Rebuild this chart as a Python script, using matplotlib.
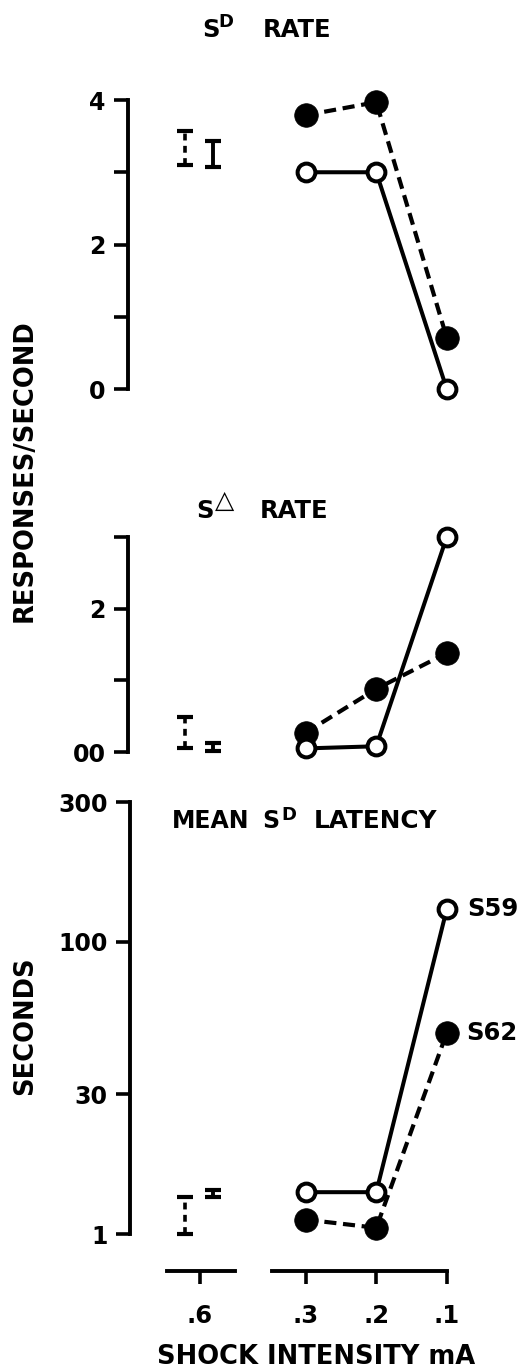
import matplotlib
matplotlib.use('Agg')
import matplotlib.pyplot as plt
from matplotlib.ticker import NullLocator

plt.rcParams['font.family'] = ['DejaVu Sans']
plt.rcParams['font.weight'] = 'bold'
plt.rcParams['mathtext.fontset'] = 'dejavusans'

W, H, DPI = 532, 1371, 100

# ---------------- data ----------------
x_labels = ['.6', '.3', '.2', '.1']
x_pos = [0.0, 1.5, 2.5, 3.5]          # axis positions of the intensities
# values at .3, .2, .1 mA
s59_sd_rate = [3.0, 3.0, 0.0]
s62_sd_rate = [3.79, 3.97, 0.71]
s59_sdelta_rate = [0.05, 0.08, 3.0]
s62_sdelta_rate = [0.27, 0.88, 1.38]
s59_latency = [13.9, 13.9, 129.0]
s62_latency = [11.2, 10.5, 48.7]
# ranges at .6 mA (low, high)
s62_sd_range = [3.10, 3.57]
s59_sd_range = [3.07, 3.43]
s62_sdelta_range = [0.06, 0.49]
s59_sdelta_range = [0.02, 0.12]
s62_latency_range = [10.0, 13.4]
s59_latency_range = [13.4, 14.1]

sd_ticks = [0, 1, 2, 3, 4]
sd_ticklabels = ['0', '', '2', '', '4']
sdelta_ticks = [0, 1, 2, 3]
sdelta_ticklabels = ['00', '', '2', '']
lat_ticks = [10, 30, 100, 300]
lat_ticklabels = ['1', '30', '100', '300']

# ---------------- layout helpers ----------------
fig = plt.figure(figsize=(W / DPI, H / DPI), dpi=DPI)
UNIT = 70.5   # px per x unit
X0 = 200.0    # px of x position 0
SPINE_LW = 2.8
TICK_W = 2.6


def add_ax(left, top, right, bottom):
    ax = fig.add_axes([left / W, 1 - bottom / H, (right - left) / W, (bottom - top) / H])
    ax.set_xlim((left - X0) / UNIT, (right - X0) / UNIT)
    ax.patch.set_alpha(0)
    for s in ['top', 'right', 'bottom']:
        ax.spines[s].set_visible(False)
    ax.spines['left'].set_linewidth(SPINE_LW)
    ax.spines['left'].set_capstyle('projecting')
    ax.xaxis.set_major_locator(NullLocator())
    ax.tick_params(axis='y', direction='out', length=10, width=TICK_W,
                   labelsize=17, pad=6)
    return ax


def draw(ax, s59, s62, r62, r59):
    xp = x_pos[1:]
    ax.plot(xp, s62, color='k', lw=3.0, dashes=(2.9, 1.6), marker='o', ms=17,
            mfc='k', mec='k', mew=0.5, clip_on=False, zorder=3)
    ax.plot(xp, s59, color='k', lw=2.9, ls='-', marker='o', ms=12.8,
            mfc='white', mec='k', mew=2.9, clip_on=False, zorder=4)
    eb = ax.errorbar([x_pos[0] - 0.21], [r62[0]], yerr=[[0], [r62[1] - r62[0]]],
                     fmt='none', ecolor='k', elinewidth=2.6, capsize=5.5,
                     capthick=3.0, clip_on=False)
    eb[2][0].set_linestyle((0, (1.9, 1.5)))
    ax.errorbar([x_pos[0] + 0.18], [r59[0]], yerr=[[0], [r59[1] - r59[0]]],
                fmt='none', ecolor='k', elinewidth=2.8, capsize=5.5,
                capthick=3.0, clip_on=False)


# top panel: SD rate
ax1 = add_ax(128, 100, 510, 389)
ax1.set_ylim(0, 4)
ax1.set_yticks(sd_ticks)
ax1.set_yticklabels(sd_ticklabels)
draw(ax1, s59_sd_rate, s62_sd_rate, s62_sd_range, s59_sd_range)

# middle panel: S-delta rate
ax2 = add_ax(128, 537, 510, 752)
ax2.set_ylim(0, 3)
ax2.set_yticks(sdelta_ticks)
ax2.set_yticklabels(sdelta_ticklabels)
draw(ax2, s59_sdelta_rate, s62_sdelta_rate, s62_sdelta_range, s59_sdelta_range)

# bottom panel: latency (log)
ax3 = add_ax(130, 802, 510, 1234)
ax3.set_yscale('log')
ax3.set_ylim(10, 300)
ax3.set_yticks(lat_ticks)
ax3.set_yticklabels(lat_ticklabels)
ax3.yaxis.set_minor_locator(NullLocator())
draw(ax3, s59_latency, s62_latency, s62_latency_range, s59_latency_range)
ax3.annotate('S59', xy=(x_pos[3], s59_latency[2]), xytext=(15, 0),
             textcoords='offset points', va='center', ha='left', fontsize=17.5)
ax3.annotate('S62', xy=(x_pos[3], s62_latency[2]), xytext=(14, 0),
             textcoords='offset points', va='center', ha='left', fontsize=17.5)

# broken x axis below the bottom panel
for seg_lo, seg_hi, idx in [(-0.47, 0.5, [0]), (1.02, 3.5, [1, 2, 3])]:
    axx = fig.add_axes([130 / W, 1 - 1271 / H, 380 / W, 10 / H])
    axx.set_xlim((130 - X0) / UNIT, (510 - X0) / UNIT)
    axx.patch.set_alpha(0)
    for s in ['top', 'right', 'left']:
        axx.spines[s].set_visible(False)
    axx.spines['bottom'].set_linewidth(SPINE_LW)
    axx.spines['bottom'].set_bounds(seg_lo, seg_hi)
    axx.yaxis.set_major_locator(NullLocator())
    axx.set_xticks([x_pos[i] for i in idx])
    axx.set_xticklabels([x_labels[i] for i in idx])
    axx.tick_params(axis='x', direction='out', length=9.5, width=TICK_W,
                    labelsize=17.5, pad=14)


def ftext(xpx, ypx, s, size, **kw):
    fig.text(xpx / W, 1 - ypx / H, s, fontsize=size, ha='left',
             va='baseline', **kw)


# titles (main letters + raised superscripts)
ftext(202, 37, 'S', 17.5)
ftext(218, 27, 'D', 13)
ftext(263, 37, 'RATE', 17.5)

ftext(196, 518, 'S', 17.5)
ftext(215, 508, '△', 18, fontweight='normal')
ftext(260, 518, 'RATE', 17.5)

ftext(172, 828, 'MEAN', 17)
ftext(262, 828, 'S', 17)
ftext(281, 820, 'D', 13)
ftext(314, 828, 'LATENCY', 17.8)

fig.text(25 / W, 1 - 471 / H, 'RESPONSES/SECOND', rotation=90, ha='center',
         va='center', fontsize=18.5)
fig.text(25 / W, 1 - 1026 / H, 'SECONDS', rotation=90, ha='center',
         va='center', fontsize=18.5)
fig.text(316 / W, 1 - 1357 / H, 'SHOCK INTENSITY mA', ha='center',
         va='center', fontsize=18.5)

fig.savefig('out.png', dpi=DPI)
